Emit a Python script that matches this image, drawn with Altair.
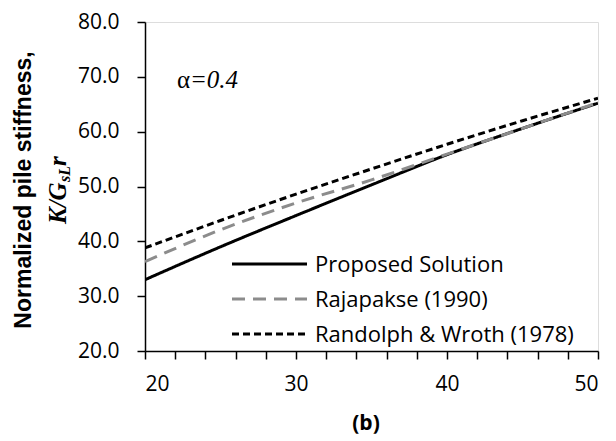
import altair as alt
import pandas as pd

# data
x_vals = [20, 25, 30, 35, 40, 45, 50]
proposed = [33.0, 39.0, 44.7, 50.3, 55.8, 60.6, 65.2]
rajapakse = [36.3, 42.1, 47.0, 51.2, 55.9, 60.6, 65.3]
randolph = [38.8, 43.8, 48.6, 53.2, 57.7, 62.0, 66.1]
series_names = ["Proposed Solution", "Rajapakse (1990)", "Randolph & Wroth (1978)"]
series_colors = ["#000000", "#8c8c8c", "#000000"]
series_dash = [[1, 0], [13, 8], [7, 4]]
x_ticks = list(range(20, 51, 2))
y_ticks = [20, 30, 40, 50, 60, 70, 80]

rows = []
for name, vals in zip(series_names, [proposed, rajapakse, randolph]):
    for xv, yv in zip(x_vals, vals):
        rows.append({"x": xv, "y": yv, "series": name})
df = pd.DataFrame(rows)

W, H = 453, 329
TICK_FONT = "Open Sans"

xscale = alt.Scale(domain=[20, 50], nice=False, zero=False)
yscale = alt.Scale(domain=[20, 80], nice=False, zero=False)

lines = alt.Chart(df).mark_line(strokeWidth=3, interpolate="monotone", clip=True).encode(
    x=alt.X("x:Q", scale=xscale, axis=alt.Axis(
        values=x_ticks, labelExpr="datum.value % 10 == 0 ? datum.label : ''",
        title=None, grid=False, tickSize=8, labelPadding=14, labelFontSize=21,
        labelFont=TICK_FONT, labelColor="black", tickColor="black", domainColor="black",
        domainWidth=1.5, tickWidth=1.5)),
    y=alt.Y("y:Q", scale=yscale, axis=alt.Axis(
        values=y_ticks, format=".1f", title=None, grid=False, tickSize=8,
        labelPadding=18, labelFontSize=21, labelFont=TICK_FONT, labelColor="black",
        tickColor="black", domainColor="black", domainWidth=1.5, tickWidth=1.5)),
    color=alt.Color("series:N", scale=alt.Scale(domain=series_names, range=series_colors), legend=None),
    strokeDash=alt.StrokeDash("series:N", scale=alt.Scale(domain=series_names, range=series_dash), legend=None),
    detail="series:N",
)

layers = [lines]

# manual legend
leg_x0, leg_x1, leg_tx = 87, 162, 170
leg_y = [242, 277, 312]
for i, name in enumerate(series_names):
    layers.append(alt.Chart(pd.DataFrame({"s": [name]})).mark_rule(
        color=series_colors[i], strokeWidth=3, strokeDash=series_dash[i]).encode(
        x=alt.value(leg_x0), x2=alt.value(leg_x1), y=alt.value(leg_y[i])))
    layers.append(alt.Chart(pd.DataFrame({"s": [name]})).mark_text(
        align="left", baseline="middle", font=TICK_FONT, fontSize=22, color="black").encode(
        x=alt.value(leg_tx), y=alt.value(leg_y[i] + 1), text="s:N"))

# alpha annotation
layers.append(alt.Chart(pd.DataFrame({"t": ["α"]})).mark_text(
    align="left", baseline="middle", font="Liberation Serif", fontSize=25, color="black").encode(
    x=alt.value(32), y=alt.value(58), text="t:N"))
layers.append(alt.Chart(pd.DataFrame({"t": ["=0.4"]})).mark_text(
    align="left", baseline="middle", font="Liberation Serif", fontSize=25, fontStyle="italic",
    color="black").encode(x=alt.value(45), y=alt.value(58), text="t:N"))

# y title (two lines)
layers.append(alt.Chart(pd.DataFrame({"t": ["Normalized pile stiffness,"]})).mark_text(
    align="center", baseline="middle", angle=270, font="Liberation Sans", fontSize=23,
    fontWeight="bold", color="black").encode(x=alt.value(-121), y=alt.value(168), text="t:N"))
layers.append(alt.Chart(pd.DataFrame({"t": ["K/G"]})).mark_text(
    align="left", baseline="alphabetic", angle=270, font="Liberation Serif", fontSize=25,
    fontWeight="bold", fontStyle="italic", color="black").encode(
    x=alt.value(-79), y=alt.value(202), text="t:N"))
layers.append(alt.Chart(pd.DataFrame({"t": ["sL"]})).mark_text(
    align="left", baseline="alphabetic", angle=270, font="Liberation Serif", fontSize=16,
    fontWeight="bold", fontStyle="italic", color="black").encode(
    x=alt.value(-75), y=alt.value(160), text="t:N"))
layers.append(alt.Chart(pd.DataFrame({"t": ["r"]})).mark_text(
    align="left", baseline="alphabetic", angle=270, font="Liberation Serif", fontSize=25,
    fontWeight="bold", fontStyle="italic", color="black").encode(
    x=alt.value(-79), y=alt.value(144), text="t:N"))

# x caption
layers.append(alt.Chart(pd.DataFrame({"t": ["(b)"]})).mark_text(
    align="center", baseline="middle", font=TICK_FONT, fontSize=21, fontWeight="bold",
    color="black").encode(x=alt.value(221), y=alt.value(402), text="t:N"))

chart = alt.layer(*layers).properties(
    width=W, height=H, autosize="none",
    padding={"left": 137, "top": 14, "right": 10, "bottom": 89},
).configure_view(stroke="black", strokeWidth=1.5).configure(background="white")

chart.save("out.html", embed_options={"renderer": "svg", "actions": False})
